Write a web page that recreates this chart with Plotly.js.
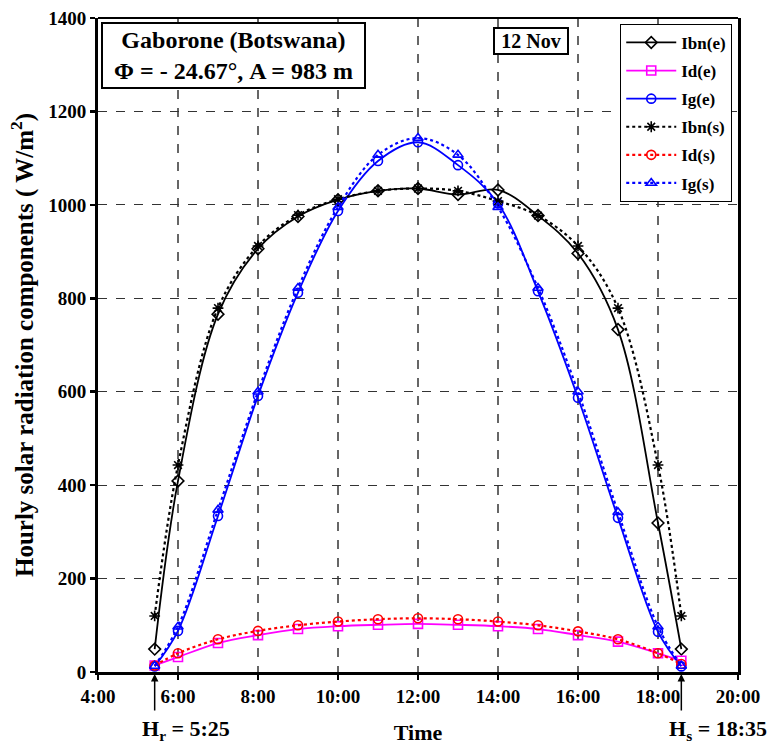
<!DOCTYPE html>
<html>
<head>
<meta charset="utf-8">
<script src="https://cdn.plot.ly/plotly-3.0.1.min.js"></script>
<style>body{margin:0;padding:0;background:#fff;} #chart{width:772px;height:745px;}</style>
</head>
<body>
<div id="chart"></div>
<script>
// Hours (decimal): sunrise 5:25, hourly 6..18, sunset 18:35
const hours = [5.4167, 6, 7, 8, 9, 10, 11, 12, 13, 14, 15, 16, 17, 18, 18.5833];
const tickVals = [4, 6, 8, 10, 12, 14, 16, 18, 20];
const tickText = ["4:00", "6:00", "8:00", "10:00", "12:00", "14:00", "16:00", "18:00", "20:00"];

const ibnE = [49, 409, 766, 906, 975, 1011, 1030, 1035, 1022, 1032, 977, 896, 733, 319, 49];
const idE  = [14, 32, 62, 79, 92, 98, 101, 103, 101, 98, 92, 79, 65, 40, 24];
const igE  = [12, 88, 334, 591, 812, 987, 1094, 1134, 1085, 1003, 815, 587, 330, 86, 12];
const ibnS = [120, 443, 779, 912, 978, 1012, 1030, 1035, 1030, 1008, 977, 912, 779, 443, 120];
const idS  = [14, 40, 70, 88, 100, 108, 113, 115, 113, 108, 100, 87, 70, 40, 17];
const igS  = [13, 97, 347, 600, 822, 995, 1107, 1143, 1107, 995, 822, 600, 342, 97, 13];

const serif = "Liberation Serif, Times New Roman, serif";

function tr(name, y, color, dash, symbol) {
  return {
    x: hours, y: y, name: name, legendgroup: name, type: "scatter", mode: "lines+markers",
    line: {color: color, width: dash === "solid" ? 1.8 : 2.2, dash: dash, shape: "spline", smoothing: 1},
    marker: {symbol: symbol, size: 9, color: color, line: {color: color, width: 1.6}}
  };
}

const data = [
  tr("Ibn(e)", ibnE, "#000000", "solid", "diamond-open"),
  tr("Id(e)", idE, "#ff00ff", "solid", "square-open"),
  tr("Ig(e)", igE, "#0000ff", "solid", "circle-open"),
  tr("Ibn(s)", ibnS, "#000000", "dot", "asterisk-open"),
  tr("Id(s)", idS, "#ff0000", "dot", "circle-open"),
  tr("Ig(s)", igS, "#0000ff", "dot", "triangle-up-open")
];

const layout = {
  width: 772, height: 745,
  margin: {l: 98, r: 34, t: 18, b: 73},
  paper_bgcolor: "#fff", plot_bgcolor: "#fff",
  font: {family: serif, color: "#000"},
  showlegend: true,
  legend: {
    x: 0.816, y: 0.991, xanchor: "left", yanchor: "top",
    bgcolor: "#fff", bordercolor: "#000", borderwidth: 1,
    font: {family: serif, size: 17, color: "#000", weight: "bold"},
    traceorder: "grouped", tracegroupgap: 3, itemwidth: 50
  },
  xaxis: {
    range: [4, 20], tickvals: tickVals, ticktext: tickText,
    tickfont: {family: serif, size: 19, weight: "bold"},
    showgrid: true, gridcolor: "#666", griddash: "dash", gridwidth: 1.2,
    showline: true, linecolor: "#000", linewidth: 3, mirror: false,
    ticks: "outside", ticklen: 5, tickwidth: 2.5, tickcolor: "#000",
    zeroline: false,
    title: {text: "Time", font: {family: serif, size: 22, weight: "bold"}, standoff: 24}
  },
  yaxis: {
    range: [0, 1400], dtick: 200,
    tickfont: {family: serif, size: 19, weight: "bold"},
    showgrid: true, gridcolor: "#333", griddash: "dash", gridwidth: 1.2,
    showline: true, linecolor: "#000", linewidth: 3, mirror: true,
    ticks: "outside", ticklen: 5, tickwidth: 2.5, tickcolor: "#000",
    zeroline: false,
    title: {text: "Hourly solar radiation components ( W/m<sup>2</sup>)", font: {family: serif, size: 25, weight: "bold"}, standoff: 8}
  },
  shapes: [
    {type: "line", xref: "paper", yref: "paper", x0: 0, x1: 1, y0: 1, y1: 1, line: {color: "#000", width: 2}}
  ],
  annotations: [
    {xref: "paper", yref: "paper", x: 0.005, y: 0.994, xanchor: "left", yanchor: "top",
     text: "Gaborone (Botswana)<br>Φ = - 24.67°, A = 983 m", showarrow: false,
     font: {family: serif, size: 24, weight: "bold"}, align: "center", width: 255,
     bordercolor: "#000", borderwidth: 2, borderpad: 3, bgcolor: "#fff"},
    {xref: "paper", yref: "paper", x: 0.617, y: 0.986, xanchor: "left", yanchor: "top",
     text: "12 Nov", showarrow: false, width: 70,
     font: {family: serif, size: 20, weight: "bold"},
     bordercolor: "#000", borderwidth: 2, borderpad: 1, bgcolor: "#fff"},
    {xref: "x", yref: "paper", x: hours[0], y: 0, ax: 0, ay: 40, axref: "pixel", ayref: "pixel",
     text: "", showarrow: true, arrowhead: 2, arrowsize: 1, arrowwidth: 1.5, arrowcolor: "#000", standoff: 2},
    {xref: "x", yref: "paper", x: hours[hours.length - 1], y: 0, ax: 0, ay: 40, axref: "pixel", ayref: "pixel",
     text: "", showarrow: true, arrowhead: 2, arrowsize: 1, arrowwidth: 1.5, arrowcolor: "#000", standoff: 2},
    {xref: "x", yref: "paper", x: 6.2, y: 0, yshift: -42, xanchor: "center", yanchor: "top",
     text: "H<sub>r</sub> = 5:25", showarrow: false, font: {family: serif, size: 22, weight: "bold"}},
    {xref: "x", yref: "paper", x: 19.5, y: 0, yshift: -42, xanchor: "center", yanchor: "top",
     text: "H<sub>s</sub> = 18:35", showarrow: false, font: {family: serif, size: 22, weight: "bold"}}
  ]
};

Plotly.newPlot("chart", data, layout, {displayModeBar: false, staticPlot: true});
</script>
</body>
</html>
